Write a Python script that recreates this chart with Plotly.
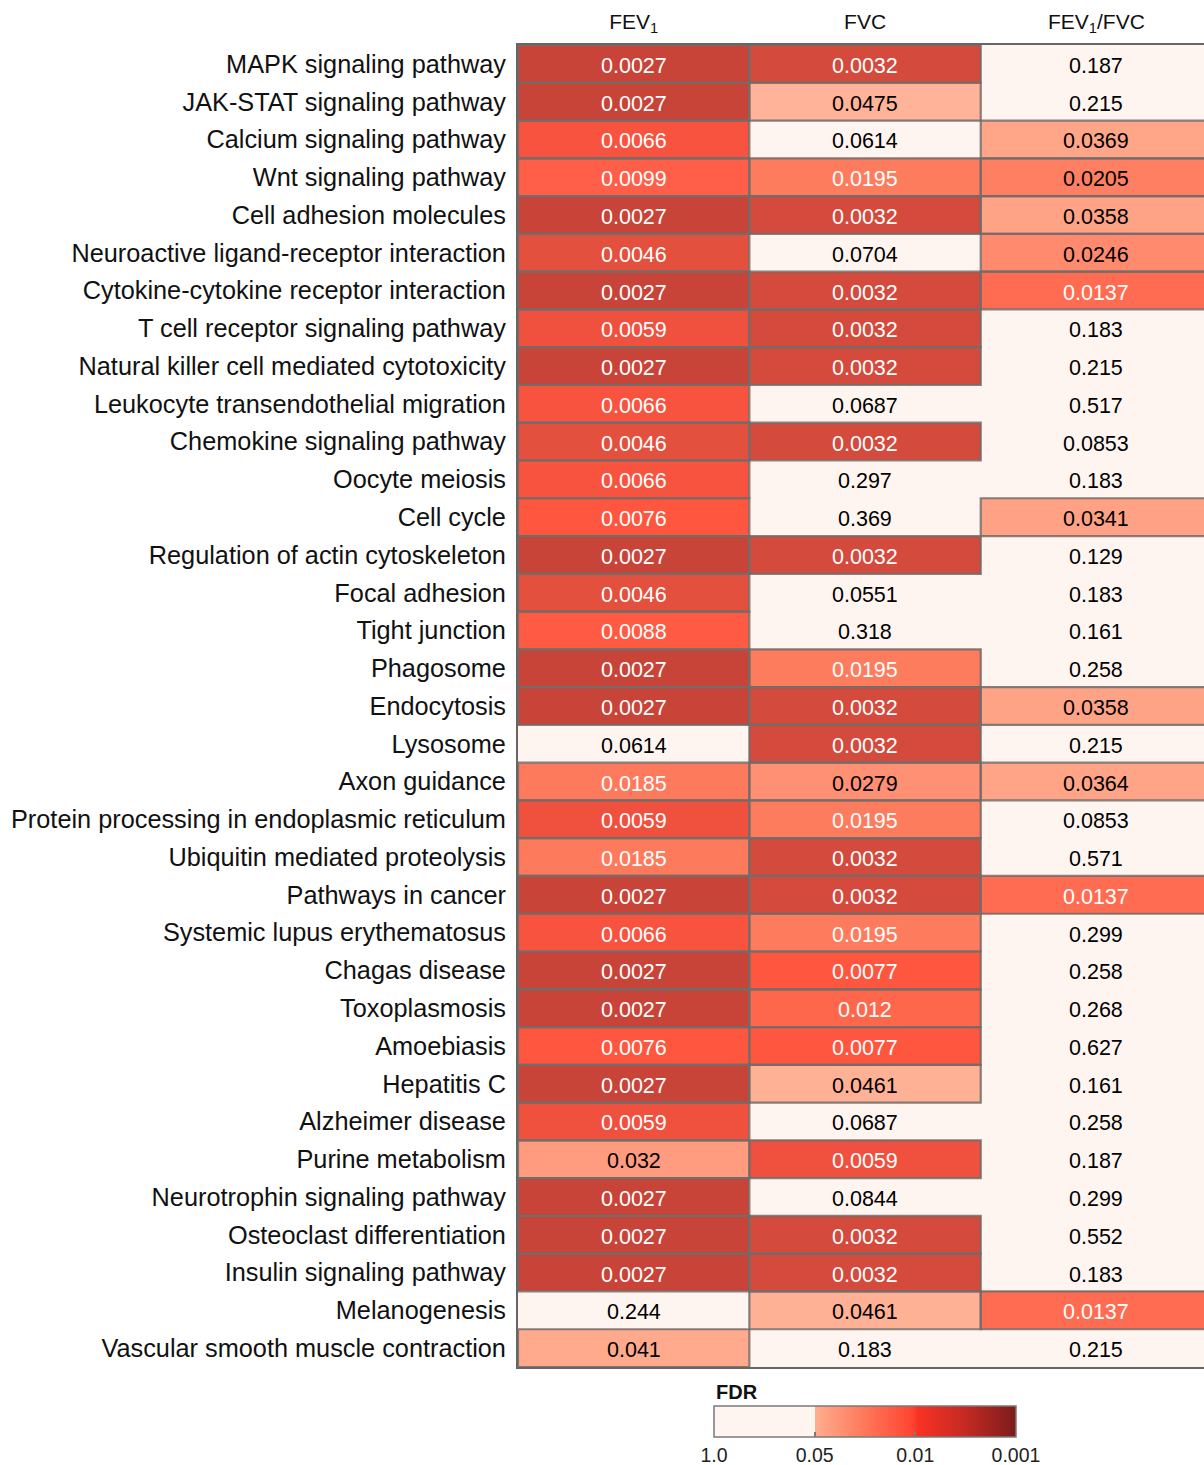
import math
import plotly.graph_objects as go

# KEGG pathways (rows, top to bottom)
pathways = [
    "MAPK signaling pathway",
    "JAK-STAT signaling pathway",
    "Calcium signaling pathway",
    "Wnt signaling pathway",
    "Cell adhesion molecules",
    "Neuroactive ligand-receptor interaction",
    "Cytokine-cytokine receptor interaction",
    "T cell receptor signaling pathway",
    "Natural killer cell mediated cytotoxicity",
    "Leukocyte transendothelial migration",
    "Chemokine signaling pathway",
    "Oocyte meiosis",
    "Cell cycle",
    "Regulation of actin cytoskeleton",
    "Focal adhesion",
    "Tight junction",
    "Phagosome",
    "Endocytosis",
    "Lysosome",
    "Axon guidance",
    "Protein processing in endoplasmic reticulum",
    "Ubiquitin mediated proteolysis",
    "Pathways in cancer",
    "Systemic lupus erythematosus",
    "Chagas disease",
    "Toxoplasmosis",
    "Amoebiasis",
    "Hepatitis C",
    "Alzheimer disease",
    "Purine metabolism",
    "Neurotrophin signaling pathway",
    "Osteoclast differentiation",
    "Insulin signaling pathway",
    "Melanogenesis",
    "Vascular smooth muscle contraction",
]

traits = ["FEV<sub>1</sub>", "FVC", "FEV<sub>1</sub>/FVC"]

# FDR per pathway for each lung-function trait
fdr_fev1 = [0.0027, 0.0027, 0.0066, 0.0099, 0.0027, 0.0046, 0.0027, 0.0059, 0.0027, 0.0066,
            0.0046, 0.0066, 0.0076, 0.0027, 0.0046, 0.0088, 0.0027, 0.0027, 0.0614, 0.0185,
            0.0059, 0.0185, 0.0027, 0.0066, 0.0027, 0.0027, 0.0076, 0.0027, 0.0059, 0.032,
            0.0027, 0.0027, 0.0027, 0.244, 0.041]
fdr_fvc = [0.0032, 0.0475, 0.0614, 0.0195, 0.0032, 0.0704, 0.0032, 0.0032, 0.0032, 0.0687,
           0.0032, 0.297, 0.369, 0.0032, 0.0551, 0.318, 0.0195, 0.0032, 0.0032, 0.0279,
           0.0195, 0.0032, 0.0032, 0.0195, 0.0077, 0.012, 0.0077, 0.0461, 0.0687, 0.0059,
           0.0844, 0.0032, 0.0032, 0.0461, 0.183]
fdr_ratio = [0.187, 0.215, 0.0369, 0.0205, 0.0358, 0.0246, 0.0137, 0.183, 0.215, 0.517,
             0.0853, 0.183, 0.0341, 0.129, 0.183, 0.161, 0.258, 0.0358, 0.215, 0.0364,
             0.0853, 0.571, 0.0137, 0.299, 0.258, 0.268, 0.627, 0.161, 0.258, 0.187,
             0.299, 0.552, 0.183, 0.0137, 0.215]

# colour bar breaks
cb_fdr = [1.0, 0.05, 0.01, 0.001]
cb_labels = ["1.0", "0.05", "0.01", "0.001"]

SIG = 0.05


def fdr_scale(p):
    """Piecewise log scale: 1->0.05 maps to 0..1, 0.05->0.01 to 1..2, 0.01->0.001 to 2..3."""
    p = min(max(p, 0.001), 1.0)
    if p >= 0.05:
        return math.log10(1.0 / p) / math.log10(1.0 / 0.05)
    if p >= 0.01:
        return 1 + math.log10(0.05 / p) / math.log10(5.0)
    return 2 + math.log10(0.01 / p)


TMAX = 3.0
BG = "#FFF5F0"

# cell palette anchored on FDR values
cell_anchors = [
    (0.0475, "#FFB398"), (0.041, "#FFAA8D"), (0.0341, "#FFA184"), (0.0279, "#FF9073"),
    (0.0246, "#FF8A6D"), (0.0195, "#FE7C5E"), (0.0137, "#FF6C51"), (0.0099, "#FF5F48"),
    (0.0076, "#FF5640"), (0.0066, "#F8533F"), (0.0059, "#F0513F"), (0.0046, "#E3503E"),
    (0.0032, "#D44A3C"), (0.0027, "#C94438"), (0.001, "#7B1F1F"),
]
cell_scale = [[0.0, BG], [1 / 3 - 1e-4, BG], [1 / 3, "#FFB89D"]]
cell_scale += [[fdr_scale(p) / TMAX, c] for p, c in cell_anchors]

bar_anchors = [(0.05, "#FFAE90"), (0.022, "#FF7658"), (0.0105, "#FF4532"),
               (0.0095, "#F83224"), (0.0032, "#C52A22"), (0.001, "#7A1C1C")]
bar_scale = [[0.0, BG], [1 / 3 - 1e-4, BG]]
bar_scale += [[fdr_scale(p) / TMAX, c] for p, c in bar_anchors]

columns = [fdr_fev1, fdr_fvc, fdr_ratio]
n_rows = len(pathways)
z = [[fdr_scale(columns[j][i]) for j in range(3)] for i in range(n_rows)]

fig = go.Figure()
fig.add_trace(go.Heatmap(
    z=z, x=list(range(3)), y=list(range(n_rows)),
    zmin=0, zmax=TMAX, colorscale=cell_scale, showscale=False, hoverinfo="skip",
))

# colour bar carrier
fig.add_trace(go.Scatter(
    x=[None], y=[None], mode="markers", showlegend=False, hoverinfo="skip",
    marker=dict(
        color=[0], cmin=0, cmax=TMAX, colorscale=bar_scale, showscale=True,
        colorbar=dict(
            orientation="h", lenmode="pixels", len=302, thickness=31,
            x=0.5058, xanchor="center", y=-0.0295, yanchor="top",
            xpad=0, ypad=0, outlinewidth=1.5, outlinecolor="#7a7a7a",
            tickvals=[fdr_scale(p) for p in cb_fdr], ticktext=cb_labels,
            ticks="inside", ticklen=5, tickcolor="#7a7a7a", tickwidth=1.5,
            tickfont=dict(family="Liberation Sans", size=19.5, color="#222"),
        ),
    ),
))

# value labels and outlines of significant cells
annotations = []
shapes = []
for j, col in enumerate(columns):
    for i, p in enumerate(col):
        annotations.append(dict(
            x=j, y=i, xref="x", yref="y", text=f"{p:.3g}", showarrow=False,
            xanchor="center", yanchor="middle", yshift=-2,
            font=dict(family="Liberation Sans", size=21.5,
                      color="white" if p < 0.02 else "black"),
        ))
        if p < SIG:
            shapes.append(dict(
                type="rect", xref="x", yref="y", layer="above",
                x0=j - 0.5, x1=j + 0.5, y0=i - 0.5, y1=i + 0.5,
                line=dict(color="rgba(115,108,106,0.85)", width=2.2),
            ))

annotations.append(dict(
    text="<b>FDR</b>", xref="paper", yref="paper", x=0.2857, y=-0.0189,
    xanchor="left", yanchor="middle", showarrow=False,
    font=dict(family="Liberation Sans", size=20, color="#111"),
))

fig.update_layout(
    width=1204, height=1465,
    margin=dict(l=518, r=0, t=45, b=98, autoexpand=False),
    paper_bgcolor="white", plot_bgcolor="white",
    shapes=shapes,
    annotations=annotations,
)
fig.update_xaxes(
    range=[-0.5, 2.465], side="top", tickvals=list(range(3)), ticktext=traits,
    showgrid=False, zeroline=False, ticks="", ticklabelstandoff=6,
    tickfont=dict(family="Liberation Sans", size=21, color="#111"),
    showline=True, linecolor="#666", linewidth=2, mirror=True,
)
fig.update_yaxes(
    range=[n_rows - 0.5, -0.5], tickvals=list(range(n_rows)), ticktext=pathways,
    showgrid=False, zeroline=False, ticks="", ticklabelstandoff=5,
    tickfont=dict(family="Liberation Sans", size=25.3, color="#111"),
    showline=True, linecolor="#666", linewidth=2, mirror=False,
)

fig.write_html("out.html")
